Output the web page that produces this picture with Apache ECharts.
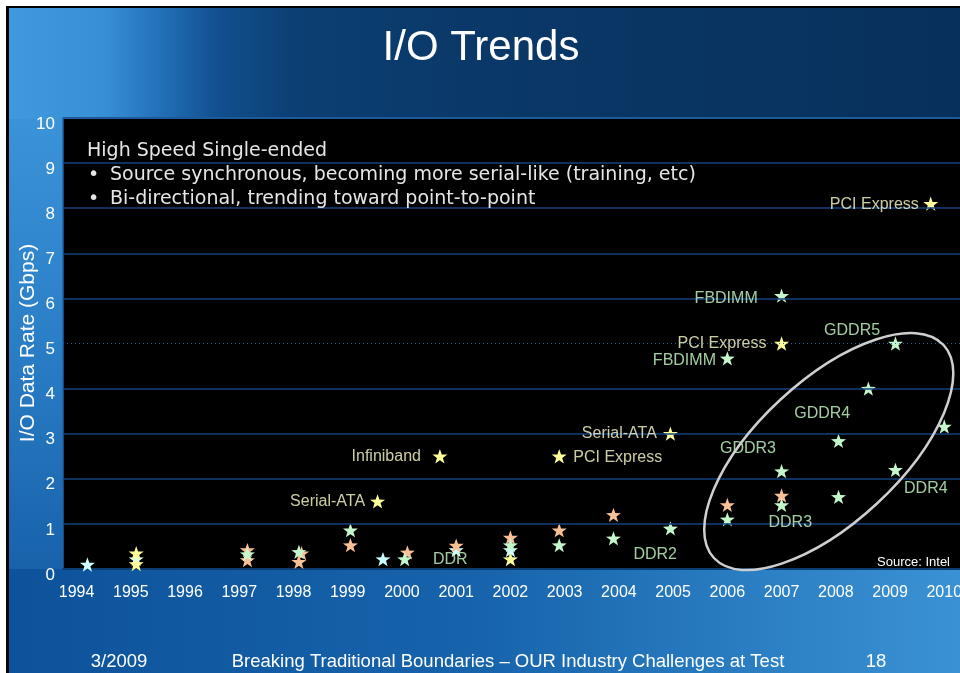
<!DOCTYPE html>
<html>
<head>
<meta charset="utf-8">
<script src="https://cdn.jsdelivr.net/npm/echarts@6/dist/echarts.min.js"></script>
<style>
  html, body { margin: 0; padding: 0; background: #ffffff; }
  #chart { width: 960px; height: 673px; }
</style>
</head>
<body>
<div id="chart"></div>
<script>
// ---- axis content ----
const years = [1994, 1995, 1996, 1997, 1998, 1999, 2000, 2001, 2002, 2003,
               2004, 2005, 2006, 2007, 2008, 2009, 2010];
const rateTicks = [0, 1, 2, 3, 4, 5, 6, 7, 8, 9, 10];

// ---- I/O data rate (Gbps) by year, one list per star colour ----
const yellowStars = [
  [1995.1, 0.35], [1995.1, 0.11], [1999.55, 1.5], [2000.7, 2.5], [2002.0, 0.22],
  [2002.9, 2.5], [2004.95, 3.0], [2007.0, 5.0], [2009.75, 8.1]
];
const peachStars = [
  [1997.15, 0.42], [1997.15, 0.2], [1998.15, 0.35], [1998.1, 0.16], [1999.05, 0.53],
  [2000.1, 0.37], [2001.0, 0.52], [2002.0, 0.7], [2002.9, 0.86], [2003.9, 1.2],
  [2006.0, 1.42], [2007.0, 1.63]
];
const mintStars = [
  [1997.15, 0.33], [1998.1, 0.38], [1999.05, 0.86], [2000.05, 0.22], [2002.0, 0.53],
  [2002.9, 0.53], [2003.9, 0.68], [2004.95, 0.9], [2006.0, 1.1], [2006.0, 4.67],
  [2007.0, 2.17], [2007.0, 1.42], [2007.0, 6.06], [2008.05, 2.84], [2008.05, 1.6],
  [2008.6, 4.0], [2009.1, 5.0], [2009.1, 2.2], [2010.0, 3.16]
];
const aquaStars = [
  [1994.2, 0.1], [1995.1, 0.22], [1999.65, 0.22], [2001.0, 0.42], [2002.0, 0.42]
];

// ---- interface names: text, year, rate, text anchor ----
const linkNames = [
  ['Serial-ATA', 1999.32, 1.5, 'right'],
  ['Infiniband', 2000.35, 2.5, 'right'],
  ['PCI Express', 2003.16, 2.46, 'left'],
  ['Serial-ATA', 2004.7, 3.0, 'right'],
  ['PCI Express', 2006.72, 5.0, 'right'],
  ['PCI Express', 2009.53, 8.08, 'right']
];
const memoryNames = [
  ['FBDIMM', 2006.56, 6.0, 'right'],
  ['FBDIMM', 2005.79, 4.61, 'right'],
  ['GDDR5', 2008.3, 5.28, 'center'],
  ['GDDR4', 2007.75, 3.44, 'center'],
  ['GDDR3', 2006.38, 2.66, 'center'],
  ['DDR4', 2009.66, 1.79, 'center'],
  ['DDR3', 2007.16, 1.03, 'center'],
  ['DDR2', 2004.67, 0.31, 'center'],
  ['DDR', 2000.89, 0.2, 'center']
];

const notes = [
  'High Speed Single-ended',
  'Source synchronous, becoming more serial-like (training, etc)',
  'Bi-directional, trending toward point-to-point'
];

// five-pointed star used as the marker
const STAR = (function () {
  const pts = [];
  for (let i = 0; i < 10; i++) {
    const r = i % 2 ? 0.4 : 1;
    const a = -Math.PI / 2 + i * Math.PI / 5;
    pts.push((r * Math.cos(a)).toFixed(4) + ' ' + (r * Math.sin(a)).toFixed(4));
  }
  return 'path://M' + pts.join(' L') + ' Z';
})();

const SANS = '"Liberation Sans", Arial, sans-serif';
const NOTE_FONT = '"DejaVu Sans", sans-serif';

function starSeries(name, data, color) {
  return {
    name: name, type: 'scatter', data: data, symbol: STAR, symbolSize: [15, 14.3],
    itemStyle: { color: color, opacity: 1 }, z: 4, silent: true
  };
}

function nameSeries(name, list, color) {
  return {
    name: name, type: 'scatter', symbolSize: 1, z: 5, silent: true,
    itemStyle: { color: 'rgba(0,0,0,0)' },
    data: list.map(function (c) {
      return { name: c[0], value: [c[1], c[2]], label: { align: c[3] } };
    }),
    label: {
      show: true, position: 'inside', formatter: '{b}', color: color,
      fontSize: 16, fontFamily: SANS, verticalAlign: 'middle'
    }
  };
}

const gridLineStyle = { color: '#144280', width: 1.5, type: 'solid' };
const midLineStyle = { color: '#2a5f99', width: 1, type: [1, 3] };
const topLineStyle = { color: '#1d5a9c', width: 2, type: 'solid' };

const chart = echarts.init(document.getElementById('chart'));

const option = {
  animation: false,
  grid: {
    left: 63, top: 118, right: 0, height: 451,
    outerBoundsMode: 'none', containLabel: false,
    show: true, backgroundColor: '#000000', borderWidth: 0
  },
  xAxis: {
    type: 'value', min: 1993.75, max: 2010.29,
    axisLine: { show: true, lineStyle: { color: '#0b3c72', width: 2 } },
    axisTick: { show: false },
    splitLine: { show: false },
    axisLabel: {
      customValues: years, margin: 16, color: '#ffffff', hideOverlap: false,
      showMaxLabel: true,
      fontSize: 16, fontFamily: SANS, formatter: function (v) { return String(v); }
    }
  },
  yAxis: {
    type: 'value', min: 0, max: 10, interval: 1,
    axisLine: { show: true, lineStyle: { color: '#1f63aa', width: 1.5 } },
    axisTick: { show: false },
    splitLine: { show: false },
    axisLabel: {
      margin: 8,
      formatter: function (v) { return '{t|' + v + '}'; },
      rich: {
        t: { color: '#ffffff', fontSize: 17, fontFamily: SANS, padding: [12, 0, 0, 0] }
      }
    }
  },
  series: [
    {
      name: 'grid', type: 'line', data: [], z: 1, silent: true,
      markLine: {
        silent: true, symbol: 'none', animation: false,
        label: { show: false },
        data: rateTicks.filter(function (v) { return v > 0; }).map(function (v) {
          return {
            yAxis: v,
            lineStyle: v === 5 ? midLineStyle : (v === 10 ? topLineStyle : gridLineStyle)
          };
        })
      }
    },
    starSeries('aqua', aquaStars, '#ccffff'),
    starSeries('peach', peachStars, '#f9bf95'),
    starSeries('mint', mintStars, '#c4f7cb'),
    starSeries('yellow', yellowStars, '#ffff99'),
    nameSeries('links', linkNames, '#ffffcc'),
    nameSeries('memory', memoryNames, '#ccffcc')
  ]
};

chart.setOption(option);

// slide backdrop, titles and the highlighted cluster
const ellipseCentre = chart.convertToPixel({ gridIndex: 0 }, [2007.87, 2.605]);

const textStyle = function (txt, size, extra) {
  const s = { text: txt, fill: '#ffffff', fontSize: size, fontFamily: SANS };
  for (const k in (extra || {})) s[k] = extra[k];
  return s;
};

const noteStyle = function (txt) {
  return textStyle(txt, 19, { fill: '#e6e6e6', fontFamily: NOTE_FONT, verticalAlign: 'middle' });
};

chart.setOption({
  graphic: [
    { type: 'rect', z: -20, silent: true, shape: { x: 6, y: 6, width: 954, height: 667 },
      style: { fill: '#000000' } },
    { type: 'rect', z: -19, silent: true, shape: { x: 9, y: 8, width: 951, height: 112 },
      style: { fill: new echarts.graphic.LinearGradient(0, 0, 1, 0, [
        { offset: 0, color: '#3f99dc' }, { offset: 0.1, color: '#3890d4' },
        { offset: 0.16, color: '#2270b8' }, { offset: 0.22, color: '#124f8f' },
        { offset: 0.3, color: '#0c3f73' }, { offset: 0.5, color: '#0a3868' },
        { offset: 1, color: '#08305c' }]) } },
    { type: 'rect', z: -19, silent: true, shape: { x: 9, y: 119, width: 55, height: 451 },
      style: { fill: new echarts.graphic.LinearGradient(0, 0, 0, 1, [
        { offset: 0, color: '#3b93d7' }, { offset: 0.5, color: '#2a7ec6' },
        { offset: 1, color: '#1862aa' }]) } },
    { type: 'rect', z: -19, silent: true, shape: { x: 9, y: 569, width: 951, height: 104 },
      style: { fill: new echarts.graphic.LinearGradient(0, 0, 1, 0, [
        { offset: 0, color: '#0d529a' }, { offset: 0.5, color: '#1764ac' },
        { offset: 1, color: '#3a92d4' }]) } },
    { type: 'text', z: 10, silent: true, x: 481, y: 48,
      style: textStyle('I/O Trends', 42, { align: 'center', verticalAlign: 'middle' }) },
    { type: 'text', z: 10, silent: true, x: 28, y: 343, rotation: Math.PI / 2,
      style: textStyle('I/O Data Rate (Gbps)', 21, { align: 'center', verticalAlign: 'middle' }) },
    { type: 'text', z: 10, silent: true, x: 87, y: 151, style: noteStyle(notes[0]) },
    { type: 'text', z: 10, silent: true, x: 88, y: 175, style: noteStyle('\u2022') },
    { type: 'text', z: 10, silent: true, x: 110, y: 175, style: noteStyle(notes[1]) },
    { type: 'text', z: 10, silent: true, x: 88, y: 199, style: noteStyle('\u2022') },
    { type: 'text', z: 10, silent: true, x: 110, y: 199, style: noteStyle(notes[2]) },
    { type: 'text', z: 10, silent: true, x: 950, y: 562,
      style: textStyle('Source: Intel', 13, { align: 'right', verticalAlign: 'middle' }) },
    { type: 'ellipse', z: 6, silent: true,
      x: ellipseCentre[0], y: ellipseCentre[1], rotation: 42.85 * Math.PI / 180,
      shape: { cx: 0, cy: 0, rx: 156.6, ry: 70.9 },
      style: { fill: 'none', stroke: '#cfcfcf', lineWidth: 2.5 } },
    { type: 'text', z: 10, silent: true, x: 119, y: 662,
      style: textStyle('3/2009', 18.5, { align: 'center', verticalAlign: 'middle' }) },
    { type: 'text', z: 10, silent: true, x: 508, y: 662,
      style: textStyle('Breaking Traditional Boundaries \u2013 OUR Industry Challenges at Test', 18.5, { align: 'center', verticalAlign: 'middle' }) },
    { type: 'text', z: 10, silent: true, x: 876, y: 662,
      style: textStyle('18', 18.5, { align: 'center', verticalAlign: 'middle' }) }
  ]
});
</script>
</body>
</html>
